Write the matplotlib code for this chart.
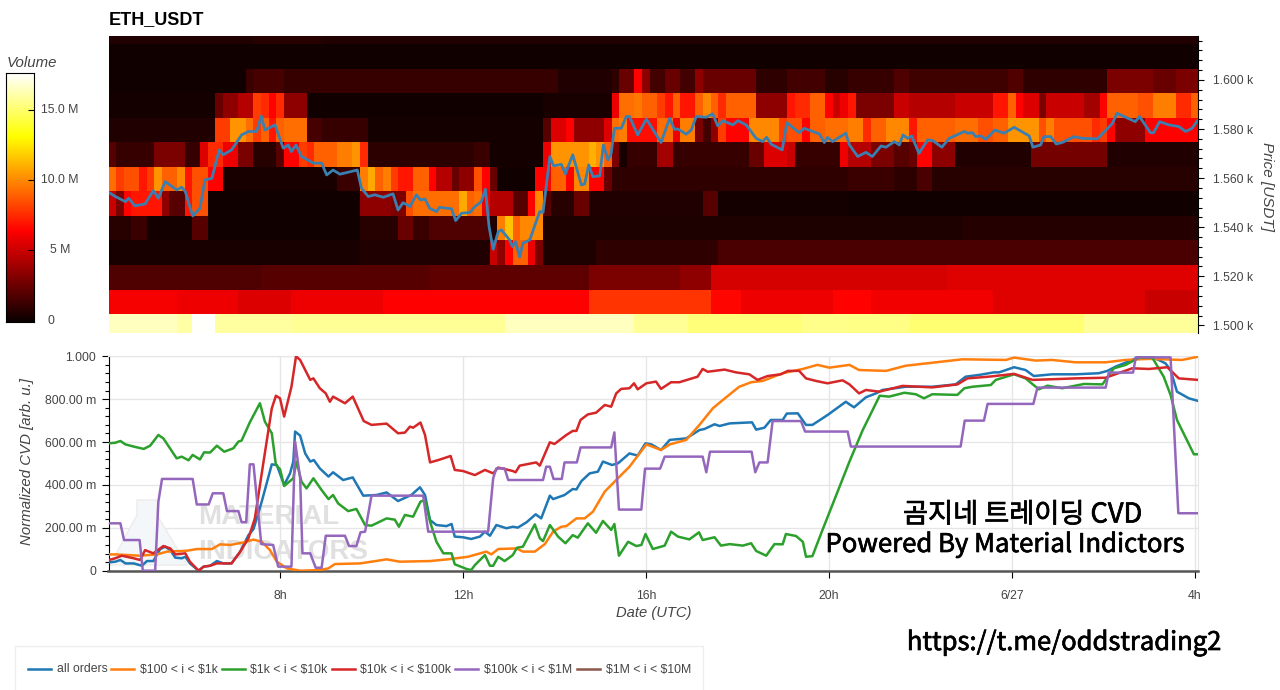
#!/usr/bin/env python3

import matplotlib
matplotlib.use("Agg")
import matplotlib.pyplot as plt
import matplotlib.patheffects as pe
from matplotlib.lines import Line2D
from matplotlib.patches import Polygon
from matplotlib.ticker import FixedLocator, MultipleLocator
import numpy as np

W, H = 1280, 690
plt.rcParams["font.family"] = ["Liberation Sans", "DejaVu Sans"]

# volume per 10 minute column, (first column, value in millions), one list per price bucket
vol_1620 = [(0, .6), (19, .8), (28, .6)]
vol_1610 = [(0, .2), (60, .15), (100, .2)]
vol_1600 = [(0, .2), (18, 1.3), (19, 1.6), (23, 1.2), (59, .6), (66, 1), (67, 2.5), (69, 6.5), (70, 3.5), (71, 1.5),
            (73, 2.5), (75, 1.5), (77, 3.5), (78, 2.5), (85, 1), (89, 1.5), (94, .8), (97, 1.2), (103, 1.8), (105, 1.4),
            (118, 1.9), (120, 1), (131, 3), (137, 2.5), (140, 3)]
vol_1590 = [(0, .3), (14, 2.5), (15, 3.5), (17, 4.5), (19, 8), (20, 7.5), (21, 6.5), (22, 7.5), (23, 3.5), (26, .2),
            (57, .4), (66, 6), (67, 9.3), (69, 9.6), (70, 9), (72, 8), (73, 7), (74, 9), (75, 7), (77, 9), (78, 10),
            (79, 9), (80, 7.5), (81, 9), (85, 3.5), (89, 7), (90, 7.5), (92, 9), (94, 6.5), (95, 5), (96, 6), (97, 7),
            (98, 3), (103, 5), (105, 4.5), (111, 5), (116, 7), (118, 9), (119, 6.5), (120, 5.5), (122, 3), (123, 5),
            (128, 4), (130, 6.5), (131, 9), (135, 8.5), (137, 9.7), (140, 7.5), (142, 9)]
vol_1580 = [(0, .6), (14, 8), (16, 10.3), (18, 9.3), (19, 8), (20, 9), (21, 7), (22, 9), (23, 9.3), (26, 1.6), (28, 1.2),
            (34, .3), (57, 2), (58, 5.5), (60, 6.5), (61, 3.5), (65, 5.5), (66, 9.3), (67, 9.7), (68, 6.8), (72, 9.3),
            (74, 6), (75, 9.7), (77, 3), (78, 1.5), (79, 3.5), (80, 8), (81, 6.5), (84, 10), (88, 8), (89, 8.5),
            (91, 6.5), (92, 9), (94, 9.3), (97, 9.7), (99, 7.5), (100, 9), (102, 10), (105, 7), (106, 9), (111, 9.3),
            (114, 8.5), (116, 9), (118, 10.3), (122, 8.5), (123, 9.7), (124, 8.5), (129, 7.5), (130, 8), (131, 6.5),
            (132, 3.5), (136, 6.5)]
vol_1570 = [(0, 2), (1, 1.2), (6, 3), (10, 1.2), (12, 5.5), (13, 7.5), (15, 6), (17, 3), (19, .8), (22, 2), (23, 6.5),
            (25, 8), (26, 7.5), (27, 9), (30, 9.7), (32, 10.3), (33, 7.5), (34, .9), (48, 1.3), (50, .3), (57, 6), (58, 10.3),
            (63, 11), (64, 10.3), (65, 9), (66, 3), (67, .4), (68, 1.2), (72, 4), (74, 1.2), (84, 2.5), (86, 5.5), (89, 5),
            (90, 1.2), (96, 6), (97, 4.5), (100, 3), (103, 2), (105, 2.5), (106, 6.5), (108, 3.5), (111, .6), (121, 2.8),
            (131, .6)]
vol_1560 = [(0, 9.3), (1, 8), (2, 8.5), (4, 7), (5, 8), (6, 10.3), (7, 9), (9, 10), (10, 7), (11, 8.5), (13, 6.5), (15, .4),
            (30, 1.3), (33, 9.7), (34, 10.8), (35, 9), (36, 9.7), (37, 8), (38, 7), (40, 9), (42, 6.5), (43, 4.5), (45, 2.5),
            (46, 3.5), (48, 8.5), (49, 6.5), (50, 2.5), (51, .2), (56, 6.5), (58, 9), (60, 6.5), (61, 10), (63, 6.5),
            (65, 2.5), (66, 1), (97, 1.3), (103, .9), (106, 1.7), (108, .8)]
vol_1550 = [(0, 5), (1, 3), (2, 6.5), (3, 7), (7, 3.5), (8, 2), (10, 7), (11, 8.5), (13, .2), (33, 3.5), (37, 3), (39, 8.5),
            (40, 9.3), (46, 10.8), (47, 9), (48, 9.3), (49, 6), (50, 4.5), (53, 2), (55, 6.5), (56, 10), (57, 2), (58, .8),
            (61, 2.5), (63, .6), (78, 2), (80, .3), (97, .2)]
vol_1540 = [(0, .8), (3, 1.3), (5, .3), (11, 2), (13, .2), (33, .8), (38, 2.5), (40, 1.3), (42, 1.8), (50, .6), (51, 9.7),
            (52, 11.5), (53, 9), (54, 10), (57, .5), (97, .5), (112, .7)]
vol_1530 = [(0, .4), (33, .6), (50, 5), (51, 3.5), (52, 6.5), (53, 9), (55, 6), (56, 3), (57, .5), (64, 1), (80, 1.7)]
vol_1520 = [(0, 1.8), (20, 2), (42, 2.2), (63, 3), (75, 3.5), (79, 5.3), (110, 5.6)]
vol_1510 = [(0, 6.2), (9, 6), (17, 5.5), (24, 6), (36, 6.4), (63, 7.8), (79, 6.6), (83, 6), (95, 6.5), (100, 6.1), (116, 5.6),
            (136, 5)]
vol_1500 = [(0, 16.5), (9, 16), (11, 17.5), (14, 15.9), (24, 15.7), (42, 15.7), (52, 16.5), (69, 15.7), (76, 15.2), (91, 15.5),
            (97, 15.4), (105, 15.1), (128, 15.8)]
volume_rows = [vol_1500, vol_1510, vol_1520, vol_1530, vol_1540, vol_1550, vol_1560, vol_1570, vol_1580, vol_1590,
               vol_1600, vol_1610, vol_1620]

# price in USDT, hours counted from 00:00 on 6/26
price_h = [4.26, 4.40, 4.62, 4.69, 4.83, 5.05, 5.23, 5.34, 5.49, 5.74, 5.85, 5.93, 6.09, 6.25, 6.36, 6.51, 6.67, 6.76, 6.94,
           7.16, 7.31, 7.49, 7.59, 7.67, 7.89, 8.07, 8.18, 8.25, 8.35, 8.47, 8.73, 8.91, 9.02, 9.16, 9.31, 9.69, 9.78, 9.93,
           10.07, 10.26, 10.47, 10.58, 10.69, 10.84, 10.98, 11.07, 11.17, 11.27, 11.42, 11.49, 11.75, 11.84, 11.97, 12.15,
           12.26, 12.40, 12.49, 12.57, 12.66, 12.77, 12.84, 13.02, 13.08, 13.15, 13.24, 13.31, 13.46, 13.60, 13.68, 13.75,
           13.90, 13.98, 14.15, 14.24, 14.40, 14.59, 14.66, 14.75, 14.84, 14.99, 15.07, 15.17, 15.24, 15.31, 15.46, 15.57,
           15.64, 15.82, 16.01, 16.33, 16.52, 16.62, 16.70, 16.88, 16.99, 17.10, 17.32, 17.46, 17.57, 17.68, 17.90, 18.01,
           18.19, 18.41, 18.55, 18.64, 18.74, 18.98, 19.08, 19.35, 19.46, 19.79, 19.90, 19.97, 20.08, 20.37, 20.45, 20.63,
           20.81, 20.95, 21.14, 21.25, 21.43, 21.54, 21.62, 21.72, 21.81, 21.97, 22.16, 22.27, 22.47, 22.63, 22.96, 23.03,
           23.14, 23.21, 23.32, 23.43, 23.63, 23.83, 24.05, 24.38, 24.46, 24.63, 24.70, 24.85, 24.97, 25.10, 25.36, 25.54,
           25.87, 26.20, 26.30, 26.70, 26.79, 27.03, 27.10, 27.23, 27.43, 27.65, 27.80, 27.94, 28.07]
price_usdt = [1554.1, 1552.5, 1550.4, 1551.8, 1548.7, 1549.5, 1554.9, 1551.8, 1558.6, 1555.2, 1556.3, 1554.5, 1544.6, 1547.7,
              1559.3, 1559.9, 1571.5, 1569.5, 1571.5, 1577.6, 1579.0, 1579.0, 1585.3, 1579.6, 1581.7, 1572.2, 1573.5, 1570.8,
              1573.5, 1568.8, 1566.1, 1566.1, 1561.3, 1563.3, 1561.6, 1563.3, 1555.9, 1552.5, 1553.2, 1552.2, 1553.6, 1547.0,
              1550.0, 1548.4, 1553.2, 1551.1, 1551.5, 1547.7, 1546.4, 1548.1, 1547.5, 1542.7, 1545.7, 1546.0, 1548.4, 1550.4,
              1555.5, 1540.3, 1531.0, 1538.2, 1538.9, 1534.8, 1532.1, 1534.1, 1527.8, 1533.5, 1534.8, 1542.3, 1546.4, 1546.0,
              1568.8, 1565.0, 1565.6, 1561.7, 1569.5, 1557.2, 1557.6, 1565.4, 1560.6, 1560.9, 1573.5, 1567.4, 1570.1, 1580.3,
              1580.3, 1585.1, 1585.1, 1577.6, 1584.1, 1574.5, 1584.4, 1579.9, 1580.0, 1577.9, 1579.6, 1585.1, 1584.8, 1586.2,
              1581.3, 1583.4, 1581.7, 1583.4, 1581.7, 1576.2, 1574.9, 1576.6, 1573.8, 1571.5, 1582.6, 1578.5, 1580.3, 1578.0,
              1574.5, 1576.6, 1574.9, 1578.3, 1573.5, 1568.8, 1570.5, 1568.8, 1573.1, 1572.6, 1574.9, 1573.5, 1577.6, 1576.2,
              1577.2, 1570.1, 1575.6, 1575.3, 1572.6, 1576.2, 1579.0, 1578.3, 1578.5, 1576.9, 1577.2, 1575.8, 1579.6, 1578.3,
              1580.7, 1577.2, 1572.6, 1573.5, 1576.9, 1576.9, 1573.9, 1574.5, 1576.9, 1576.2, 1576.0, 1582.3, 1586.4, 1583.0,
              1585.1, 1578.5, 1578.5, 1583.0, 1581.7, 1581.0, 1579.0, 1580.3, 1583.7]

# normalized CVD lines
all_h = [4.26, 4.40, 4.51, 4.62, 4.80, 4.98, 5.09, 5.23, 5.38, 5.49, 5.60, 5.71, 5.85, 5.93, 6.03, 6.22, 6.33, 6.47, 6.62, 6.76,
         6.94, 7.13, 7.31, 7.42, 7.60, 7.82, 7.93, 8.09, 8.22, 8.29, 8.33, 8.44, 8.55, 8.66, 8.74, 8.87, 9.06, 9.16, 9.38, 9.59,
         9.82, 10.11, 10.33, 10.58, 10.87, 11.06, 11.17, 11.28, 11.42, 11.64, 11.75, 11.82, 12.00, 12.18, 12.37, 12.48, 12.59,
         12.73, 12.95, 13.09, 13.20, 13.39, 13.59, 13.71, 13.90, 13.97, 14.22, 14.40, 14.48, 14.59, 14.77, 14.95, 15.06, 15.26,
         15.39, 15.64, 15.82, 15.99, 16.12, 16.33, 16.52, 16.88, 17.17, 17.28, 17.50, 17.61, 17.83, 18.32, 18.41, 18.59, 18.73,
         18.99, 19.08, 19.32, 19.50, 19.64, 19.97, 20.37, 20.45, 20.55, 20.81, 21.03, 21.17, 21.68, 22.26, 22.77, 22.99, 23.28,
         23.61, 23.72, 24.05, 24.30, 24.48, 24.88, 25.39, 25.90, 26.09, 26.27, 26.63, 26.78, 27.07, 27.36, 27.47, 27.61, 27.87,
         28.07]
all_v = [.039, .042, .050, .034, .034, .023, .045, .045, .101, .112, .096, .061, .058, .065, .034, 0, .019, .023, .045, .034,
         .034, .089, .166, .194, .322, .496, .493, .400, .454, .509, .649, .630, .547, .509, .516, .477, .439, .459, .423, .435,
         .350, .353, .365, .325, .353, .389, .353, .236, .213, .208, .218, .159, .156, .148, .159, .182, .163,
         .213, .198, .205, .201, .226, .263, .244, .350, .334, .353, .381, .379, .418, .454, .462, .509, .493,
         .501, .547, .537, .594, .589, .563, .610, .617, .656, .661, .683, .675, .687, .692, .658, .667, .703,
         .703, .733, .734, .680, .680, .726, .788, .776, .762, .809, .827, .843, .858, .858, .869, .905, .913,
         .925, .925, .949, .936, .908, .916, .916, .921, .932, .952, .983, .998, .998, .967, .936, .835, .804,
         .792]

o100_h = [4.26, 4.40, 4.94, 5.31, 5.53, 5.96, 6.18, 6.51, 6.69, 6.91, 7.20, 7.42, 7.60, 7.78, 7.93, 8.15, 8.44, 8.87, 9.06, 9.20,
          9.75, 10.00, 10.33, 10.62, 11.28, 11.71, 12.11, 12.51, 12.62, 12.77, 13.17, 13.31, 13.57, 13.79, 13.97, 14.15, 14.26,
          14.48, 14.66, 14.84, 15.10, 15.35, 15.64, 16.01, 16.33, 16.52, 16.88, 17.17, 17.46, 17.68, 18.04, 18.30, 18.55, 18.99,
          19.43, 19.75, 20.01, 20.45, 20.66, 21.25, 21.68, 22.34, 22.92, 23.87, 24.05, 24.52, 24.88, 25.39, 26.05, 26.49, 27.00,
          27.72, 28.07]
o100_v = [.076, .076, .070, .076, .089, .093, .101, .101, .123, .120, .132, .145, .135, .096, .042, .011, 0, .003, .011, .031,
          .034, .042, .053, .042, .045, .054, .065, .089, .076, .101, .104, .089, .089, .124, .182, .205, .208,
          .244, .244, .275, .369, .423, .485, .589, .563, .589, .610, .680, .757, .796, .858, .879, .885, .921,
          .941, .960, .947, .960, .936, .932, .956, .972, .986, .983, .994, .980, .983, .972, .972, .983, .988,
          .983, .998]

o1k_h = [4.26, 4.40, 4.51, 4.62, 4.80, 5.02, 5.16, 5.34, 5.45, 5.74, 5.85, 6.00, 6.09, 6.25, 6.34, 6.47, 6.62, 6.78, 6.98, 7.09,
         7.16, 7.34, 7.56, 7.67, 7.82, 7.91, 8.00, 8.09, 8.22, 8.29, 8.36, 8.47, 8.58, 8.73, 8.91, 9.06, 9.16, 9.27, 9.49, 9.67,
         9.86, 10.00, 10.33, 10.51, 10.60, 10.73, 10.91, 11.07, 11.17, 11.28, 11.42, 11.57, 11.75, 11.82, 12.08, 12.18, 12.26,
         12.48, 12.59, 12.66, 12.77, 12.91, 13.09, 13.18, 13.31, 13.57, 13.68, 13.75, 13.90, 14.08, 14.24, 14.40, 14.51, 14.73,
         14.91, 15.06, 15.24, 15.31, 15.41, 15.61, 15.79, 15.90, 15.99, 16.15, 16.41, 16.55, 16.70, 16.95, 17.16, 17.24, 17.50,
         17.64, 17.83, 18.12, 18.30, 18.41, 18.63, 18.81, 18.99, 19.06, 19.28, 19.43, 19.50, 19.64, 19.86, 20.12, 20.45, 20.74,
         21.11, 21.32, 21.65, 21.90, 22.08, 22.26, 22.81, 22.96, 23.14, 23.54, 23.65, 24.05, 24.30, 24.59, 24.78, 25.10, 25.58,
         25.98, 26.23, 26.49, 26.78, 27.07, 27.32, 27.47, 27.61, 27.98, 28.07]
o1k_v = [.594, .597, .605, .589, .579, .568, .583, .633, .617, .524, .532, .515, .540, .519, .552, .551, .583, .555, .571, .602,
         .607, .692, .781, .695, .641, .493, .474, .395, .418, .431, .509, .415, .384, .431, .376, .334, .353, .314, .278, .288,
         .213, .210, .244, .238, .205, .260, .252, .322, .330, .229, .135, .081, .081, .030, .008, .003, .026,
         .073, .023, .023, .065, .045, .073, .107, .112, .216, .151, .138, .213, .159, .128, .166, .154, .221,
         .177, .232, .190, .218, .070, .135, .115, .120, .171, .101, .117, .182, .159, .146, .179, .143, .156,
         .117, .124, .117, .128, .092, .070, .124, .123, .171, .162, .135, .065, .068, .190, .330, .509, .656,
         .816, .812, .830, .823, .804, .823, .820, .851, .858, .866, .890, .916, .897, .846, .863, .851, .871,
         .869, .944, .960, .994, .994, .905, .820, .703, .543, .543]

o10k_h = [4.26, 4.40, 4.54, 4.80, 4.94, 5.05, 5.23, 5.45, 5.60, 5.71, 5.93, 6.03, 6.22, 6.33, 6.47, 6.62, 6.94, 7.13, 7.31, 7.45,
          7.64, 7.82, 7.91, 8.00, 8.09, 8.25, 8.35, 8.44, 8.66, 8.73, 8.87, 9.00, 9.09, 9.16, 9.42, 9.59, 9.83, 10.00, 10.33,
          10.58, 10.73, 10.84, 10.91, 11.07, 11.17, 11.28, 11.46, 11.73, 11.82, 12.00, 12.26, 12.48, 12.66, 12.77, 13.09, 13.15,
          13.24, 13.60, 13.68, 13.90, 14.00, 14.26, 14.40, 14.48, 14.57, 14.73, 14.91, 15.10, 15.24, 15.35, 15.46, 15.64, 15.74,
          15.82, 16.01, 16.22, 16.33, 16.55, 16.73, 17.13, 17.24, 17.35, 17.72, 17.97, 18.26, 18.44, 18.66, 18.95, 19.10, 19.35,
          19.50, 19.72, 19.97, 20.30, 20.45, 20.66, 20.81, 21.10, 21.61, 22.26, 22.81, 23.03, 23.50, 24.05, 24.45, 24.88, 25.39,
          26.05, 26.63, 27.00, 27.40, 27.65, 28.07]
o10k_v = [.050, .058, .070, .058, .050, .096, .081, .115, .104, .076, .081, .042, 0, .019, .023, .034, .034, .089, .151, .244,
          .509, .757, .816, .804, .719, .858, 1.0, .983, .890, .897, .851, .827, .788, .812, .781, .812, .698, .680, .686,
          .641, .644, .672, .667, .691, .633, .505, .516, .535, .470, .465, .446, .470, .454, .481, .465, .459,
          .490, .505, .490, .599, .591, .633, .652, .652, .703, .729, .737, .773, .765, .827, .848, .851, .874,
          .846, .874, .882, .848, .879, .879, .905, .941, .928, .938, .925, .916, .890, .908, .916, .932, .932,
          .897, .885, .874, .888, .869, .827, .843, .835, .862, .855, .869, .897, .905, .918, .890, .893, .897,
          .900, .944, .941, .949, .897, .890]

o100k_h = [4.26, 4.51, 4.59, 4.93, 5.00, 5.27, 5.34, 5.42, 6.09, 6.18, 6.44, 6.53, 6.76, 6.84, 7.09, 7.16, 7.26, 7.34, 7.42, 7.59,
           7.85, 7.96, 8.25, 8.33, 8.44, 8.49, 8.66, 8.78, 8.91, 9.00, 9.42, 9.51, 9.67, 9.76, 9.86, 10.00, 11.13, 11.24, 12.55,
           12.66, 12.73, 12.91, 12.99, 13.75, 13.82, 13.90, 13.98, 14.16, 14.22, 14.49, 14.57, 15.24, 15.31, 15.41, 15.90, 15.98,
           16.31, 16.41, 17.24, 17.32, 17.40, 18.31, 18.39, 18.48, 18.66, 18.77, 19.39, 19.48, 20.41, 20.48, 22.88, 22.97, 23.39,
           23.47, 24.47, 24.56, 26.05, 26.12, 26.65, 26.71, 27.47, 27.64, 28.07]
o100k_v = [.221, .221, .143, .143, 0, 0, .322, .428, .428, .309, .309, .361, .361, .278, .278, .226, .226, .496, .496, .124,
           .120, .019, .019, .602, .431, .081, .081, .014, .014, .163, .163, .115, .115, .179, .182, .350, .350, .182, .182,
           .431, .477, .477, .423, .423, .485, .485, .428, .428, .505, .505, .575, .575, .645, .285, .285, .476,
           .476, .532, .532, .459, .555, .555, .459, .505, .505, .698, .698, .649, .649, .579, .579, .700, .700,
           .778, .778, .854, .854, .924, .924, .995, .995, .268, .268]

line_labels = ["all orders", "$100 < i < $1k", "$1k < i < $10k", "$10k < i < $100k", "$100k < i < $1M", "$1M < i < $10M"]
line_colors = ["#1f77b4", "#ff7f0e", "#2ca02c", "#d62728", "#9467bd", "#8c564b"]

x_ticks = [8, 12, 16, 20, 24, 28]
x_tick_labels = ["8h", "12h", "16h", "20h", "6/27", "4h"]
cvd_ticks = [0, .2, .4, .6, .8, 1]
cvd_tick_labels = ["0", "200.00 m", "400.00 m", "600.00 m", "800.00 m", "1.000"]
price_ticks = [1500, 1520, 1540, 1560, 1580, 1600]
price_tick_labels = ["1.500 k", "1.520 k", "1.540 k", "1.560 k", "1.580 k", "1.600 k"]
bar_ticks = [0, 5, 10, 15]
bar_tick_labels = ["0", "5 M", "10.0 M", "15.0 M"]

TEXT = "#444444"
XMIN, XMAX = 4.25, 28.07
VMAX = 17.6


def fx(x):
    return x / W


def fy(y):
    return 1 - y / H


def axes_px(fig, left, top, right, bottom):
    return fig.add_axes([fx(left), fy(bottom), (right - left) / W, (bottom - top) / H])


def expand_runs(runs, n=143):
    starts = [r[0] for r in runs] + [n]
    return np.repeat([r[1] for r in runs], np.diff(starts))


fig = plt.figure(figsize=(W / 100, H / 100), dpi=100)

# heatmap with the price line on top
ax = axes_px(fig, 108.5, 36, 1198, 333)
grid = np.array([expand_runs(r) for r in volume_rows])
x_edges = XMIN + np.arange(144) / 6
y_edges = 1494.6 + 10 * np.arange(14)
ax.pcolormesh(x_edges, y_edges, grid, cmap="hot", vmin=0, vmax=VMAX, linewidth=0, rasterized=True)
ax.plot(price_h, price_usdt, color="#3a7fb0", lw=2, solid_joinstyle="round")
ax.set_xlim(XMIN, XMAX)
ax.set_ylim(1496.9, 1617.9)
ax.set_xticks([])
ax.yaxis.tick_right()
ax.yaxis.set_major_locator(FixedLocator(price_ticks))
ax.set_yticklabels(price_tick_labels)
ax.yaxis.set_minor_locator(MultipleLocator(4))
ax.tick_params(axis="y", which="major", length=4.5, width=.8, pad=6, labelsize=8.8, labelcolor=TEXT)
ax.tick_params(axis="y", which="minor", length=3, width=.8)
for s in ["left", "top", "bottom"]:
    ax.spines[s].set_visible(False)
ax.spines["right"].set_linewidth(.8)
fig.text(fx(109), fy(19.5), "ETH_USDT", fontsize=13, fontweight="bold", color="black", va="center")
fig.text(fx(1267), fy(186), "Price [USDT]", rotation=270, fontsize=11, style="italic", color=TEXT, ha="center", va="center")

# volume colour bar
cb = axes_px(fig, 5.5, 73, 34, 322)
gradient = np.linspace(0, VMAX, 256).reshape(-1, 1)
cb.imshow(gradient, cmap="hot", vmin=0, vmax=VMAX, origin="lower", aspect="auto", extent=[0, 1, -.09, VMAX])
cb.set_ylim(-.09, VMAX)
cb.set_xticks([])
cb.yaxis.tick_right()
cb.set_yticks(bar_ticks)
cb.set_yticklabels([])
cb.tick_params(axis="y", direction="in", length=4, width=.8)
for val, lab in zip(bar_ticks, bar_tick_labels):
    lab_x = fx(50.7) if val == 0 else fx(60)
    fig.text(lab_x, cb.transData.transform((0, val))[1] / H, lab, fontsize=8.8, color=TEXT, ha="center", va="center")
fig.text(fx(7), fy(63), "Volume", fontsize=10.8, style="italic", color=TEXT, va="center")

# normalized CVD panel
ax2 = axes_px(fig, 108.5, 356.3, 1198, 570.7)
flask = Polygon([(fx(137), fy(500)), (fx(157), fy(500)), (fx(157), fy(515)), (fx(187), fy(565)), (fx(110), fy(565)), (fx(137), fy(515))],
                closed=True, transform=fig.transFigure, facecolor="#f4f7f9", edgecolor="#ececec", lw=1, zorder=1)
ax2.add_patch(flask)
ax2.text(fx(198), fy(517), "MATERIAL", transform=fig.transFigure, fontsize=20, fontweight="bold", color="#e0e0e0", va="center", zorder=1.5)
ax2.text(fx(198), fy(552), "INDICATORS", transform=fig.transFigure, fontsize=20, fontweight="bold", color="#e0e0e0", va="center", zorder=1.5)

series = [(all_h, all_v), (o100_h, o100_v), (o1k_h, o1k_v), (o10k_h, o10k_v), (o100k_h, o100k_v)]
for (h, v), color in zip(series, line_colors):
    ax2.plot(h, v, color=color, lw=1.8, solid_joinstyle="round", zorder=3)

ax2.set_xlim(XMIN, XMAX)
ax2.set_ylim(0, 1)
ax2.set_xticks(x_ticks)
ax2.set_xticklabels(x_tick_labels)
ax2.set_yticks(cvd_ticks)
ax2.set_yticklabels(cvd_tick_labels)
ax2.yaxis.set_minor_locator(MultipleLocator(.04))
ax2.grid(True, which="major", color="#e6e6e6", lw=1)
ax2.set_axisbelow(True)
ax2.tick_params(axis="y", which="major", length=5, width=.8, pad=4, labelsize=8.8, labelcolor=TEXT)
ax2.tick_params(axis="y", which="minor", length=3, width=.8)
ax2.tick_params(axis="x", length=5, width=.8, pad=9, labelsize=8.8, labelcolor=TEXT)
ax2.spines["top"].set_color("#e6e6e6")
ax2.spines["right"].set_color("#e6e6e6")
ax2.spines["left"].set_linewidth(.8)
ax2.spines["bottom"].set_color("#555555")
ax2.spines["bottom"].set_linewidth(1.8)
fig.text(fx(654), fy(613), "Date (UTC)", fontsize=10.6, style="italic", color=TEXT, ha="center", va="center")
fig.text(fx(27), fy(462), "Normalized CVD [arb. u.]", rotation=90, fontsize=10.8, style="italic", color=TEXT, ha="center", va="center")

# overlaid captions, regular weight thickened with a thin stroke
KR = ["Noto Sans CJK KR", "DejaVu Sans"]
stroke = [pe.withStroke(linewidth=.5, foreground="black")]
fig.text(fx(1022.5), fy(515), "곰지네 트레이딩 CVD", family=KR, fontsize=19.6, color="black", ha="center", va="center", zorder=5, path_effects=stroke)
fig.text(fx(1005.5), fy(545), "Powered By Material Indictors", family=KR, fontsize=18.5, color="black", ha="center", va="center", zorder=5, path_effects=stroke)
fig.text(fx(1064.5), fy(643), "https://t.me/oddstrading2", family=KR, fontsize=18.4, color="black", ha="center", va="center", zorder=5, path_effects=stroke)

# legend box, cut by the lower edge of the figure
fig.add_artist(plt.Rectangle((fx(15), fy(700)), 688 / W, 54 / H, transform=fig.transFigure, facecolor="white", edgecolor="#eeeeee", lw=1))
line_x = [28, 111, 222, 332, 455, 577]
text_x = [57, 140, 250, 360, 484, 606]
for label, color, lx, tx in zip(line_labels, line_colors, line_x, text_x):
    fig.add_artist(Line2D([fx(lx), fx(lx + 23)], [fy(669), fy(669)], color=color, lw=1.8, transform=fig.transFigure))
    fig.text(fx(tx), fy(669.5), label.replace("$", r"\$"), fontsize=8.8, color=TEXT, va="center")

fig.savefig("out.png", dpi=100)
